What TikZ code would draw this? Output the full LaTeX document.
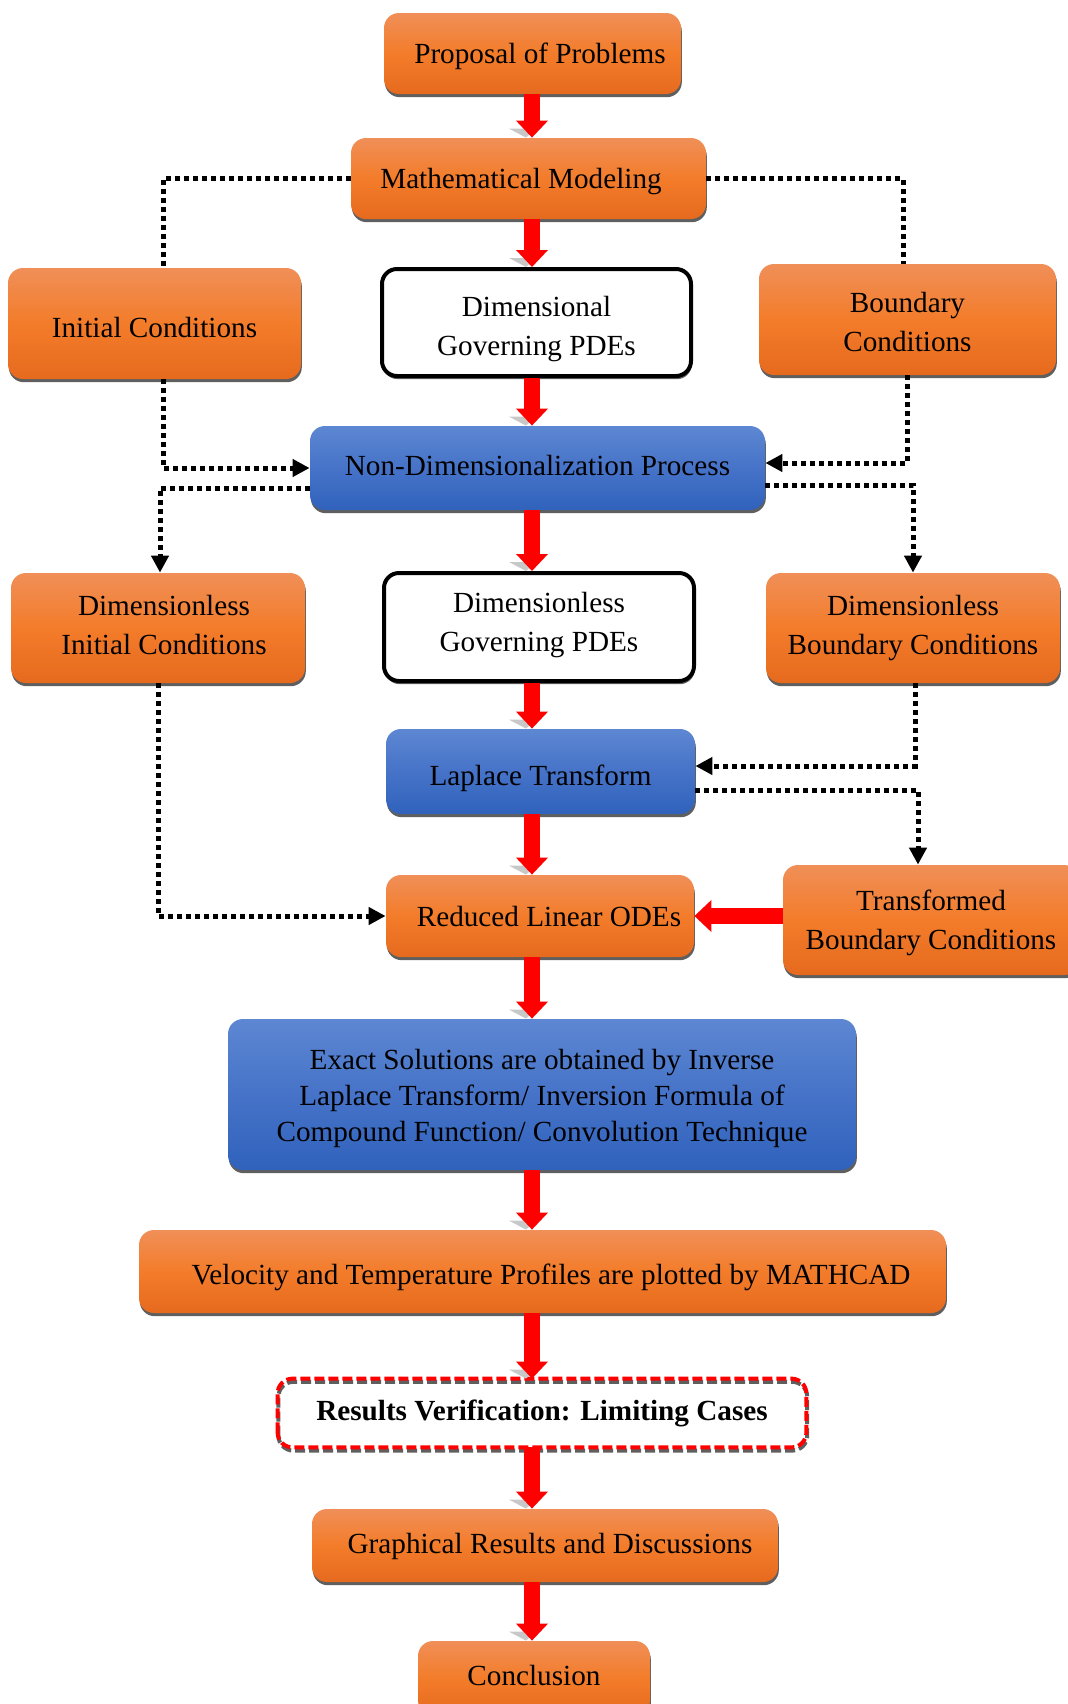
\documentclass[tikz,border=0pt]{standalone}
\usepackage{fontspec}
\setmainfont{Liberation Serif}
\usetikzlibrary{arrows.meta,shadows,calc}

\definecolor{orT}{RGB}{240,143,88}
\definecolor{orM}{RGB}{243,124,42}
\definecolor{orB}{RGB}{230,106,30}
\definecolor{blT}{RGB}{93,135,210}
\definecolor{blM}{RGB}{70,115,200}
\definecolor{blB}{RGB}{48,98,188}
\definecolor{shd}{RGB}{95,95,95}
\definecolor{ashd}{RGB}{200,200,200}

\tikzset{
  box/.style={rounded corners=7.5pt, inner sep=0pt,
    drop shadow={shadow xshift=0.4pt, shadow yshift=-1.6pt, fill=shd, opacity=1}},
  obox/.style={box, top color=orT, bottom color=orB, middle color=orM},
  bbox/.style={box, top color=blT, bottom color=blB, middle color=blM},
  wbox/.style={box, fill=white, draw=black, line width=2pt},
  rbox/.style={rounded corners=7.5pt, inner sep=0pt},
  tx/.style={align=center, inner sep=0pt, text=black,
    font=\fontsize{14.6}{19.5}\selectfont},
  dashedge/.style={line width=2pt, dash pattern=on 5pt off 2pt, rounded corners=7.5pt},
  dotl/.style={black, line width=2.5pt, dash pattern=on 2.5pt off 2pt},
  dota/.style={dotl, -{Triangle[width=8.5pt,length=8.5pt]}},
  rarr/.style={draw=red, line width=8pt, -{Triangle[width=15.5pt,length=8.5pt]}},
}

\newcommand\flowarr[2]{%
  \fill[ashd] ($(#2.north -| ax)+(-11.5pt,4.5pt)$) -- ($(#2.north -| ax)+(2pt,4.5pt)$)
     -- ($(#2.north -| ax)+(-3pt,0pt)$) -- cycle;
  \draw[rarr] (#1.south -| ax) -- (#2.north -| ax);
}

\begin{document}
\begin{tikzpicture}[x=0.5pt,y=-0.5pt]
\useasboundingbox (0,0) rectangle (1068,1704);
\clip (0,0) rectangle (1068,1704);
\coordinate (ax) at (532,0);

\node[obox, minimum width=148.5pt, minimum height=40.5pt,
  label={[tx,yshift=-1.6pt]center:{\kern7.5pt Proposal of Problems}}] (prop) at (532.5,53.5) {};
\node[obox, minimum width=177.5pt, minimum height=40.5pt,
  label={[tx,yshift=-1.6pt]center:{Mathematical Modeling\kern7.5pt}}] (math) at (528.5,178.5) {};
\node[obox, minimum width=146.5pt, minimum height=55.5pt,
  label={[tx,yshift=-2.2pt]center:{Initial Conditions}}] (init) at (154.5,323.5) {};
\node[wbox, minimum width=154.5pt, minimum height=53.5pt,
  label={[tx,yshift=-3.3pt]center:{Dimensional\\Governing PDEs}}] (dimgov) at (536.5,322.5) {};
\node[obox, minimum width=148.5pt, minimum height=55.5pt,
  label={[tx,yshift=-1.4pt]center:{Boundary\\Conditions}}] (bound) at (907.5,319.5) {};
\node[bbox, minimum width=227.5pt, minimum height=42pt,
  label={[tx,yshift=1.1pt]center:{Non-Dimensionalization Process}}] (nondim) at (537.5,468) {};
\node[obox, minimum width=147pt, minimum height=55pt,
  label={[tx,yshift=1.6pt]center:{\kern6pt Dimensionless\\\kern6pt Initial Conditions}}] (dic) at (158,628) {};
\node[wbox, minimum width=155pt, minimum height=54pt,
  label={[tx,yshift=1.1pt]center:{Dimensionless\\Governing PDEs}}] (dgov) at (539,627) {};
\node[obox, minimum width=147pt, minimum height=55pt,
  label={[tx]center:{Dimensionless\\Boundary Conditions}}] (dbc) at (913,628) {};
\node[bbox, minimum width=154.5pt, minimum height=42.5pt,
  label={[tx,yshift=-3.3pt]center:{Laplace Transform}}] (lap) at (540.5,771.5) {};
\node[obox, minimum width=154pt, minimum height=41pt,
  label={[tx]center:{\kern9pt Reduced Linear ODEs}}] (red) at (540,916) {};
\node[obox, minimum width=148pt, minimum height=55pt,
  label={[tx,yshift=-1.6pt]center:{Transformed\\Boundary Conditions}}] (tbc) at (931,920) {};
\node[bbox, minimum width=314pt, minimum height=75.5pt,
  label={[tx,font=\fontsize{14.6}{18}\selectfont,yshift=-2.2pt]center:{Exact Solutions are obtained by Inverse\\Laplace Transform/ Inversion Formula of\\Compound Function/ Convolution Technique}}] (exact) at (542,1094.5) {};
\node[obox, minimum width=403.5pt, minimum height=41.5pt,
  label={[tx,yshift=-2.7pt]center:{\kern8.5pt Velocity and Temperature Profiles are plotted by MATHCAD}}] (vel) at (542.5,1271.5) {};
\node[rbox, minimum width=264pt, minimum height=34pt,
  label={[tx,font=\fontsize{14.6}{19.5}\selectfont\bfseries]center:{Results Verification: Limiting Cases}}] (res) at (542,1413) {};
\draw[dashedge, shd] ([shift={(0.4pt,-1.6pt)}]res.south west) rectangle ([shift={(0.4pt,-1.6pt)}]res.north east);
\draw[dashedge, red] (res.south west) rectangle (res.north east);
\node[obox, minimum width=233pt, minimum height=36.5pt,
  label={[tx,yshift=-0.5pt]center:{\kern5pt Graphical Results and Discussions}}] (graph) at (545,1545.5) {};
\node[obox, minimum width=116pt, minimum height=37pt,
  label={[tx,yshift=1.1pt]center:{Conclusion}}] (conc) at (534,1678) {};

% main red flow arrows
\flowarr{prop}{math}
\flowarr{math}{dimgov}
\flowarr{dimgov}{nondim}
\flowarr{nondim}{dgov}
\flowarr{dgov}{lap}
\flowarr{lap}{red}
\flowarr{red}{exact}
\flowarr{exact}{vel}
\flowarr{vel}{res}
\flowarr{res}{graph}
\flowarr{graph}{conc}
\draw[rarr] (tbc.west |- red.east) -- (red.east);

% dotted connectors
\draw[dotl] (math.west) -| ([xshift=4.25pt]init.north);
\draw[dotl] (math.east) -| ([xshift=-2.25pt]bound.north);
\draw[dota] ([xshift=4.25pt]init.south) |- (nondim.west);
\draw[dota] ([yshift=-10pt]nondim.west) -| ([xshift=1pt]dic.north);
\draw[dota] (bound.south) |- ([yshift=2.5pt]nondim.east);
\draw[dota] ([yshift=-8.5pt]nondim.east) -| (dbc.north);
\draw[dota] ([xshift=1pt]dbc.south) |- ([yshift=2.75pt]lap.east);
\draw[dota] ([yshift=-9.25pt]lap.east) -| ([xshift=-6.5pt]tbc.north);
\draw[dota] (dic.south) |- (red.west);
\end{tikzpicture}
\end{document}
